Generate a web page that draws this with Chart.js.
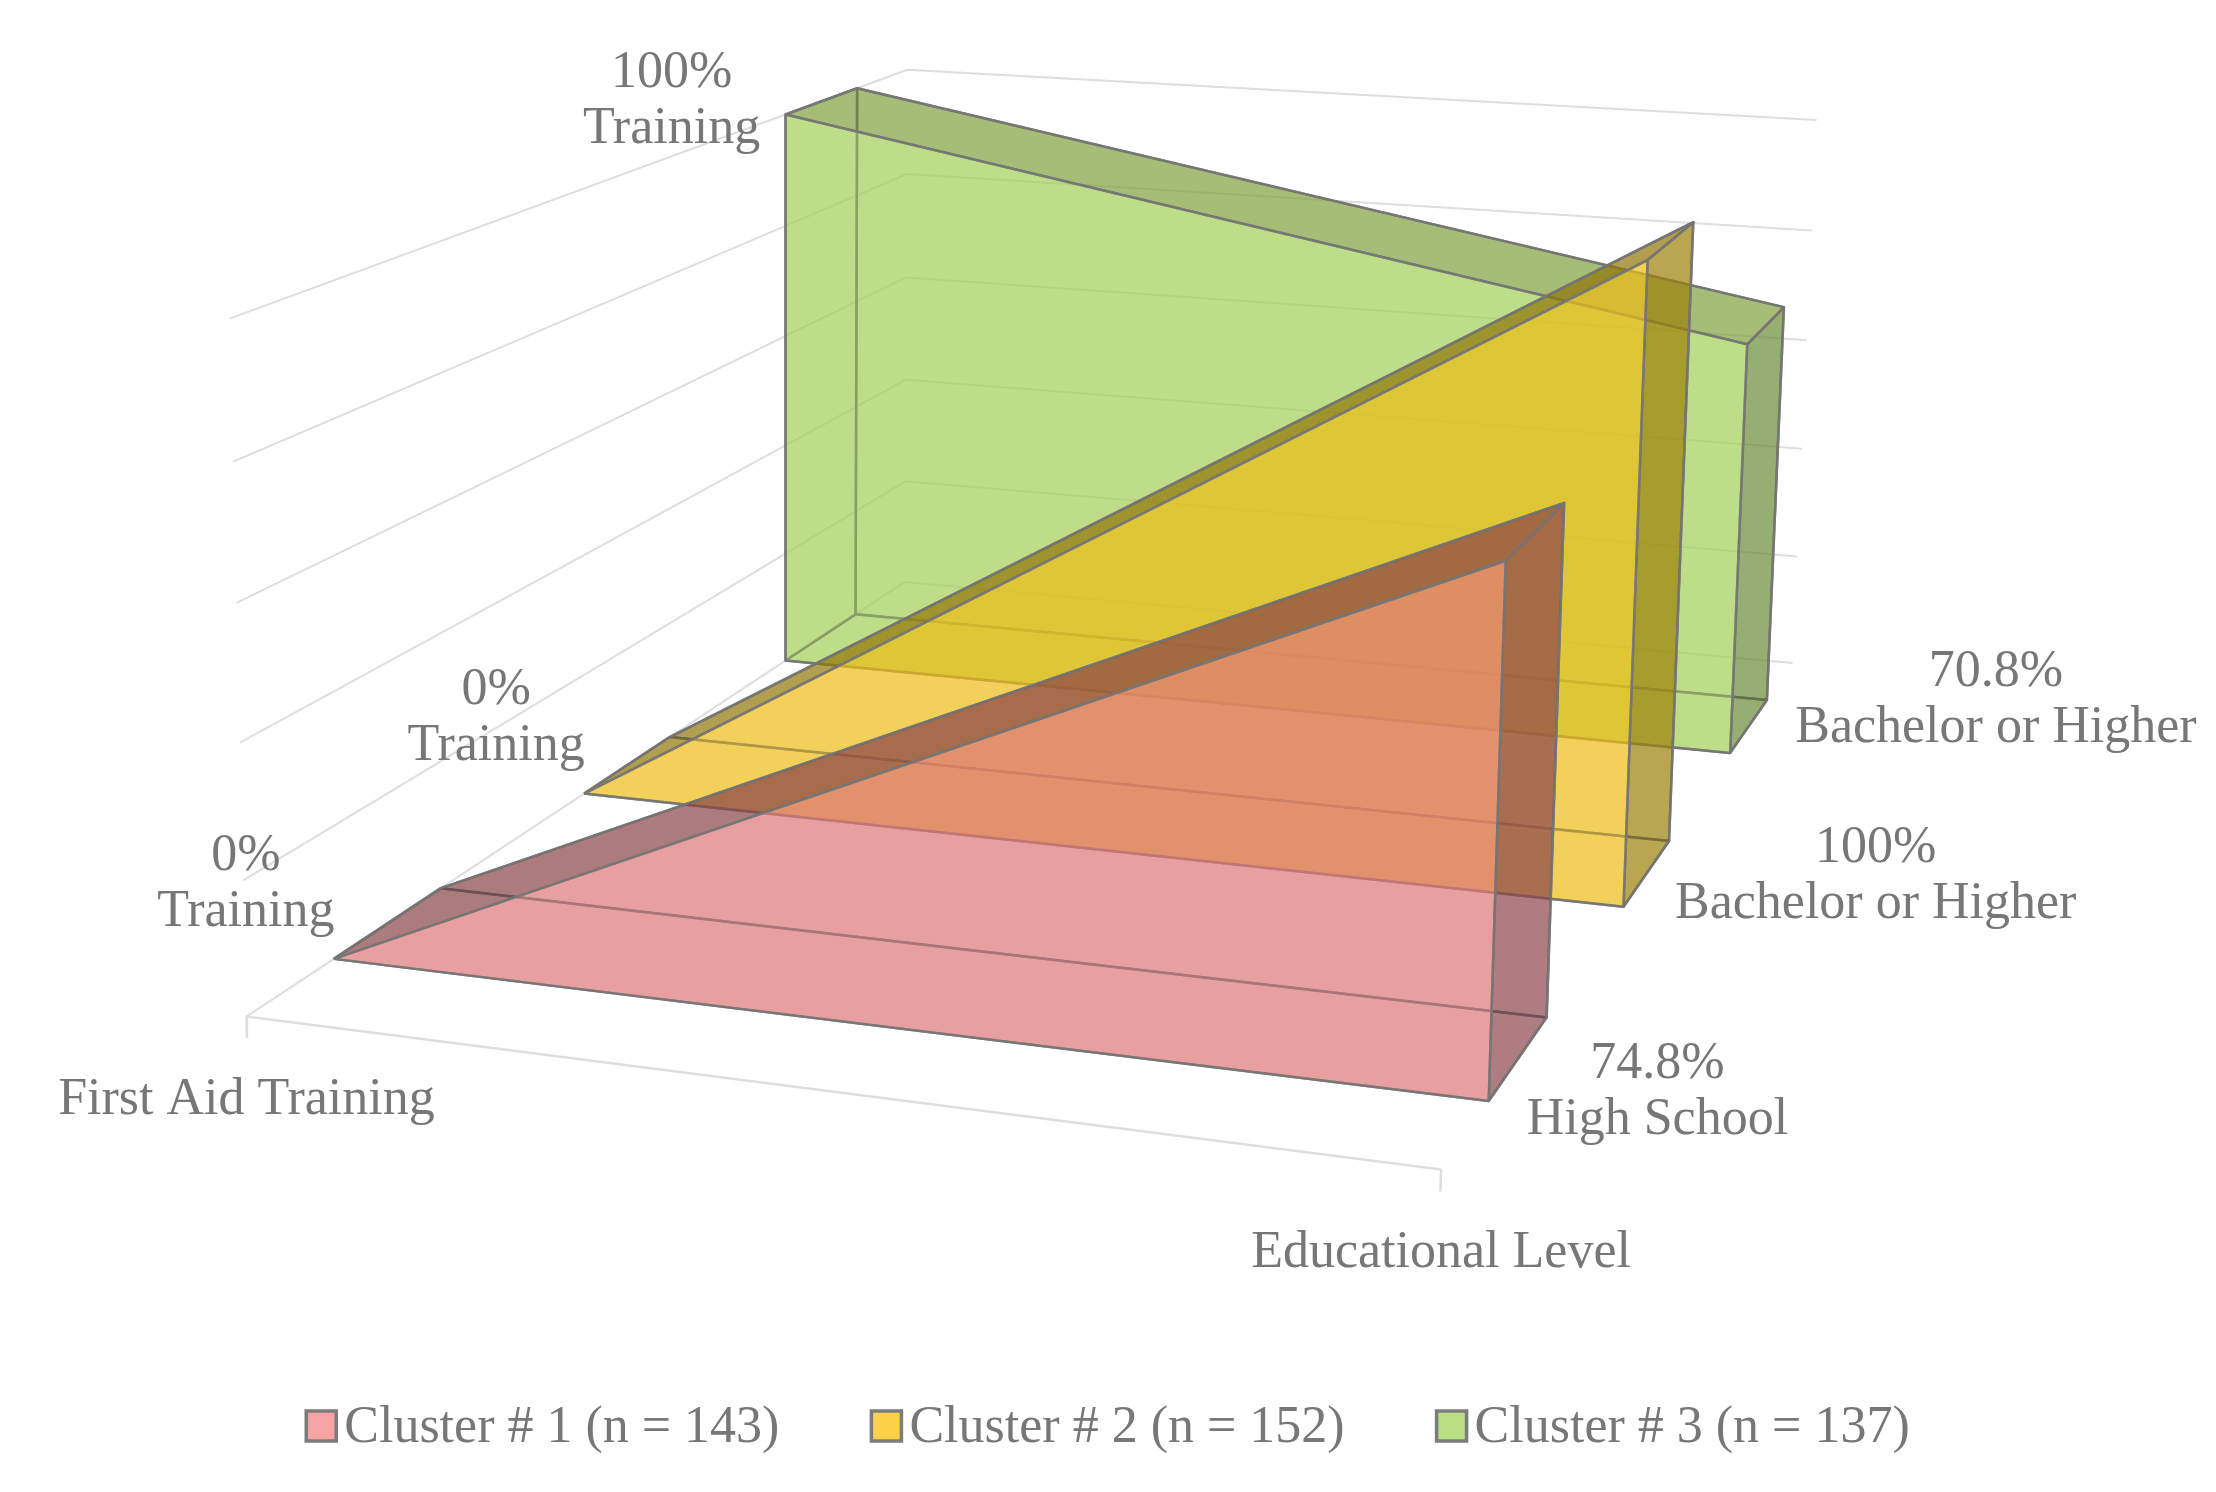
<!DOCTYPE html>
<html>
<head>
<meta charset="utf-8">
<title>Clusters 3D area</title>
<script src="https://cdn.jsdelivr.net/npm/chart.js@4.4.1/dist/chart.umd.min.js"></script>
<style>
  html, body { margin: 0; padding: 0; background: #fff; }
  #wrap { width: 2216px; height: 1492px; }
</style>
</head>
<body>
<div id="wrap"><canvas id="chart"></canvas></div>
<script>
// values
const categories = ['First Aid Training', 'Educational Level'];
const clusterNames = ['Cluster # 1 (n = 143)', 'Cluster # 2 (n = 152)', 'Cluster # 3 (n = 137)'];
const firstAidPct = [0, 0, 100];
const educationPct = [74.8, 100, 70.8];
const firstAidText = ['Training', 'Training', 'Training'];
const educationText = ['High School', 'Bachelor or Higher', 'Bachelor or Higher'];
const valueTicks = [0, 20, 40, 60, 80, 100];

// styling
const alpha = 0.45;
const seriesColors = [
  { face: [221, 117, 117], top: [88, 38, 43], side: [94, 41, 50], key: '#f6a3a3' },
  { face: [238, 188, 19], top: [94, 77, 0], side: [114, 95, 0], key: '#fdd24a' },
  { face: [162, 206, 86], top: [109, 136, 49], side: [76, 103, 36], key: '#b9de84' }
];
const edgeColor = 'rgba(118,118,118,0.9)';
const gridColor = '#dedede';
const textColor = '#777777';
const fontFamily = '"Liberation Serif", "Times New Roman", serif';
const fontSize = 52;

// 3d view: projective map (u = category position, y = value share, z = depth) -> plot units
const view = {
  x: [730.74, -16.13, 226.09, 235],
  y: [39.17, -480, -48.59, 675],
  w: [-0.07849, -0.02916, 0.12131, 1]
};
const slabDepth = 0.4, floorFront = -0.3, floorBack = 2.7;

function project(u, y, z) {
  const w = view.w[0] * u + view.w[1] * y + view.w[2] * z + view.w[3];
  return {
    x: (view.x[0] * u + view.x[1] * y + view.x[2] * z + view.x[3]) / w,
    y: (view.y[0] * u + view.y[1] * y + view.y[2] * z + view.y[3]) / w
  };
}

function rgba(c, a) {
  return 'rgba(' + c[0] + ',' + c[1] + ',' + c[2] + ',' + a + ')';
}

const datasets = [];
function addShape(pts, opts) {
  datasets.push(Object.assign({
    data: pts.map(p => project(p[0], p[1], p[2])),
    showLine: true,
    pointRadius: 0,
    tension: 0,
    borderJoinStyle: 'round'
  }, opts));
}

// walls: gridlines on the left wall and the back wall
valueTicks.forEach(t => {
  const y = t / 100;
  addShape([[0, y, floorFront], [0, y, floorBack], [1, y, floorBack]],
    { fill: false, borderColor: gridColor, borderWidth: 2 });
});
// floor front edge and its ticks
addShape([[0, 0, floorFront], [1, 0, floorFront]], { fill: false, borderColor: gridColor, borderWidth: 2.5 });
[0, 1].forEach(u => {
  addShape([[u, 0, floorFront], [u, -0.03, floorFront]], { fill: false, borderColor: gridColor, borderWidth: 2.5 });
});

// slabs, back series first
for (let k = clusterNames.length - 1; k >= 0; k--) {
  const y0 = firstAidPct[k] / 100, y1 = educationPct[k] / 100;
  const zf = k, zb = k + slabDepth;
  const col = seriesColors[k];
  const faces = [
    { pts: [[0, 0, zb], [1, 0, zb], [1, y1, zb], [0, y0, zb]], c: col.face },
    { pts: [[0, 0, zf], [1, 0, zf], [1, 0, zb], [0, 0, zb]], c: col.face },
    { pts: [[0, 0, zf], [0, y0, zf], [0, y0, zb], [0, 0, zb]], c: col.face, skip: y0 === 0 },
    { pts: [[0, y0, zf], [1, y1, zf], [1, y1, zb], [0, y0, zb]], c: col.top },
    { pts: [[1, 0, zf], [1, y1, zf], [1, y1, zb], [1, 0, zb]], c: col.side },
    { pts: [[0, 0, zf], [1, 0, zf], [1, y1, zf], [0, y0, zf]], c: col.face }
  ];
  faces.forEach(f => {
    if (f.skip) return;
    addShape(f.pts.concat([f.pts[0]]), {
      fill: 'shape',
      backgroundColor: rgba(f.c, alpha),
      borderColor: edgeColor,
      borderWidth: 2.5
    });
  });
}
datasets.forEach((d, i) => { d.order = datasets.length - i; });

// data labels, category labels and legend
const labelPlugin = {
  id: 'labels3d',
  afterDatasetsDraw(chart) {
    const ctx = chart.ctx;
    const sx = chart.scales.x, sy = chart.scales.y;
    const toPx = p => ({ x: sx.getPixelForValue(p.x), y: sy.getPixelForValue(p.y) });
    const lh = 56;
    ctx.save();
    ctx.font = fontSize + 'px ' + fontFamily;
    ctx.fillStyle = textColor;
    ctx.textAlign = 'center';
    ctx.textBaseline = 'middle';
    const block = (lines, cx, cy) => {
      lines.forEach((s, i) => ctx.fillText(s, cx, cy + (i - (lines.length - 1) / 2) * lh));
    };
    for (let k = 0; k < clusterNames.length; k++) {
      // left point (first aid training)
      const y0 = firstAidPct[k] / 100;
      const a = toPx(project(0, y0, k));
      const left = [firstAidPct[k] + '%', firstAidText[k]];
      if (y0 === 0) block(left, a.x - 88, a.y - 75);
      else block(left, a.x - 114, a.y - 13);
      // right point (educational level)
      const b = toPx(project(1, 0, k));
      const right = [educationPct[k] + '%', educationText[k]];
      const w = Math.max(...right.map(s => ctx.measureText(s).width));
      block(right, b.x + 38 + 13.5 * k + w / 2, b.y - 8.5 - 22 * k);
    }
    categories.forEach((c, u) => {
      const p = toPx(project(u, 0, floorFront));
      ctx.fillText(c, p.x, p.y + 84);
    });
    ctx.restore();
  },
  afterDraw(chart) {
    const ctx = chart.ctx;
    const box = 30, gapBox = 8, gapItem = 92, cy = 1426;
    ctx.save();
    ctx.font = fontSize + 'px ' + fontFamily;
    ctx.textBaseline = 'middle';
    ctx.textAlign = 'left';
    const widths = clusterNames.map(s => ctx.measureText(s).width);
    const total = widths.reduce((s, w) => s + w + box + gapBox, 0) + gapItem * (clusterNames.length - 1);
    let x = chart.width / 2 - total / 2;
    clusterNames.forEach((s, i) => {
      ctx.fillStyle = seriesColors[i].key;
      ctx.fillRect(x, cy - box / 2, box, box);
      ctx.strokeStyle = '#7c7c7c';
      ctx.lineWidth = 3.5;
      ctx.strokeRect(x, cy - box / 2, box, box);
      ctx.fillStyle = textColor;
      ctx.fillText(s, x + box + gapBox, cy + 2);
      x += box + gapBox + widths[i] + gapItem;
    });
    ctx.restore();
  }
};

new Chart(document.getElementById('chart'), {
  type: 'scatter',
  data: { datasets },
  options: {
    responsive: true,
    maintainAspectRatio: false,
    animation: false,
    devicePixelRatio: 1,
    events: [],
    layout: { padding: 0 },
    scales: {
      x: { type: 'linear', min: 0, max: 1560, display: false },
      y: { type: 'linear', min: 0, max: 1050.3, reverse: true, display: false }
    },
    plugins: {
      legend: { display: false },
      tooltip: { enabled: false }
    }
  },
  plugins: [labelPlugin]
});
</script>
</body>
</html>
